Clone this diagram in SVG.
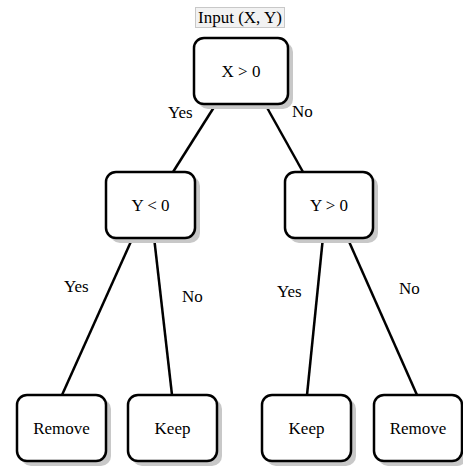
<svg xmlns="http://www.w3.org/2000/svg" width="463" height="468" viewBox="0 0 463 468" font-family="'Liberation Serif', 'Times New Roman', serif" font-size="17">
<style>
.node rect.box{fill:#fff;stroke:#000;stroke-width:2.5}
.node rect.sh{fill:#c8c8c8}
text{font-family:'Liberation Serif','Times New Roman',serif;font-size:17px;fill:#000}
.node text{text-anchor:middle}
.edges line{stroke:#000;stroke-width:2.5}
</style>
<rect width="463" height="468" fill="#fff"/>
<g id="input">
<rect x="195.5" y="7.5" width="89" height="20" fill="#f2f2f2" stroke="#c8c8c8" stroke-width="1"/>
<text x="240" y="23" text-anchor="middle">Input (X, Y)</text>
</g>
<g class="edges" id="connectors">
<line x1="216" y1="104" x2="173" y2="172"/>
<line x1="265" y1="104" x2="303" y2="172"/>
<line x1="133" y1="237" x2="62" y2="395"/>
<line x1="154" y1="237" x2="172" y2="395"/>
<line x1="323" y1="237" x2="307" y2="395"/>
<line x1="347" y1="237" x2="417" y2="395"/>
</g>
<g id="labels">
<text x="168" y="118">Yes</text>
<text x="292" y="117">No</text>
<text x="64" y="292">Yes</text>
<text x="182" y="302">No</text>
<text x="277" y="297">Yes</text>
<text x="399" y="294">No</text>
</g>
<g class="node" id="root">
<rect class="sh" x="198" y="42" width="95" height="67" rx="10"/>
<rect class="box" x="194" y="38" width="94" height="66" rx="10"/>
<text x="241" y="77">X &gt; 0</text>
</g>
<g class="node" id="yneg">
<rect class="sh" x="110" y="176" width="90" height="67" rx="10"/>
<rect class="box" x="106" y="172" width="89" height="66" rx="10"/>
<text x="150.5" y="211">Y &lt; 0</text>
</g>
<g class="node" id="ypos">
<rect class="sh" x="289" y="176" width="89" height="67" rx="10"/>
<rect class="box" x="285" y="172" width="88" height="66" rx="10"/>
<text x="329" y="211">Y &gt; 0</text>
</g>
<g class="node" id="remove1">
<rect class="sh" x="21" y="399" width="90" height="67" rx="10"/>
<rect class="box" x="17" y="395" width="89" height="66" rx="10"/>
<text x="61.5" y="434">Remove</text>
</g>
<g class="node" id="keep1">
<rect class="sh" x="132" y="399" width="90" height="67" rx="10"/>
<rect class="box" x="128" y="395" width="89" height="66" rx="10"/>
<text x="172.5" y="434">Keep</text>
</g>
<g class="node" id="keep2">
<rect class="sh" x="266" y="399" width="90" height="67" rx="10"/>
<rect class="box" x="262" y="395" width="89" height="66" rx="10"/>
<text x="306.5" y="434">Keep</text>
</g>
<g class="node" id="remove2">
<rect class="sh" x="378" y="399" width="89" height="67" rx="10"/>
<rect class="box" x="374" y="395" width="88" height="66" rx="10"/>
<text x="418" y="434">Remove</text>
</g>
</svg>
